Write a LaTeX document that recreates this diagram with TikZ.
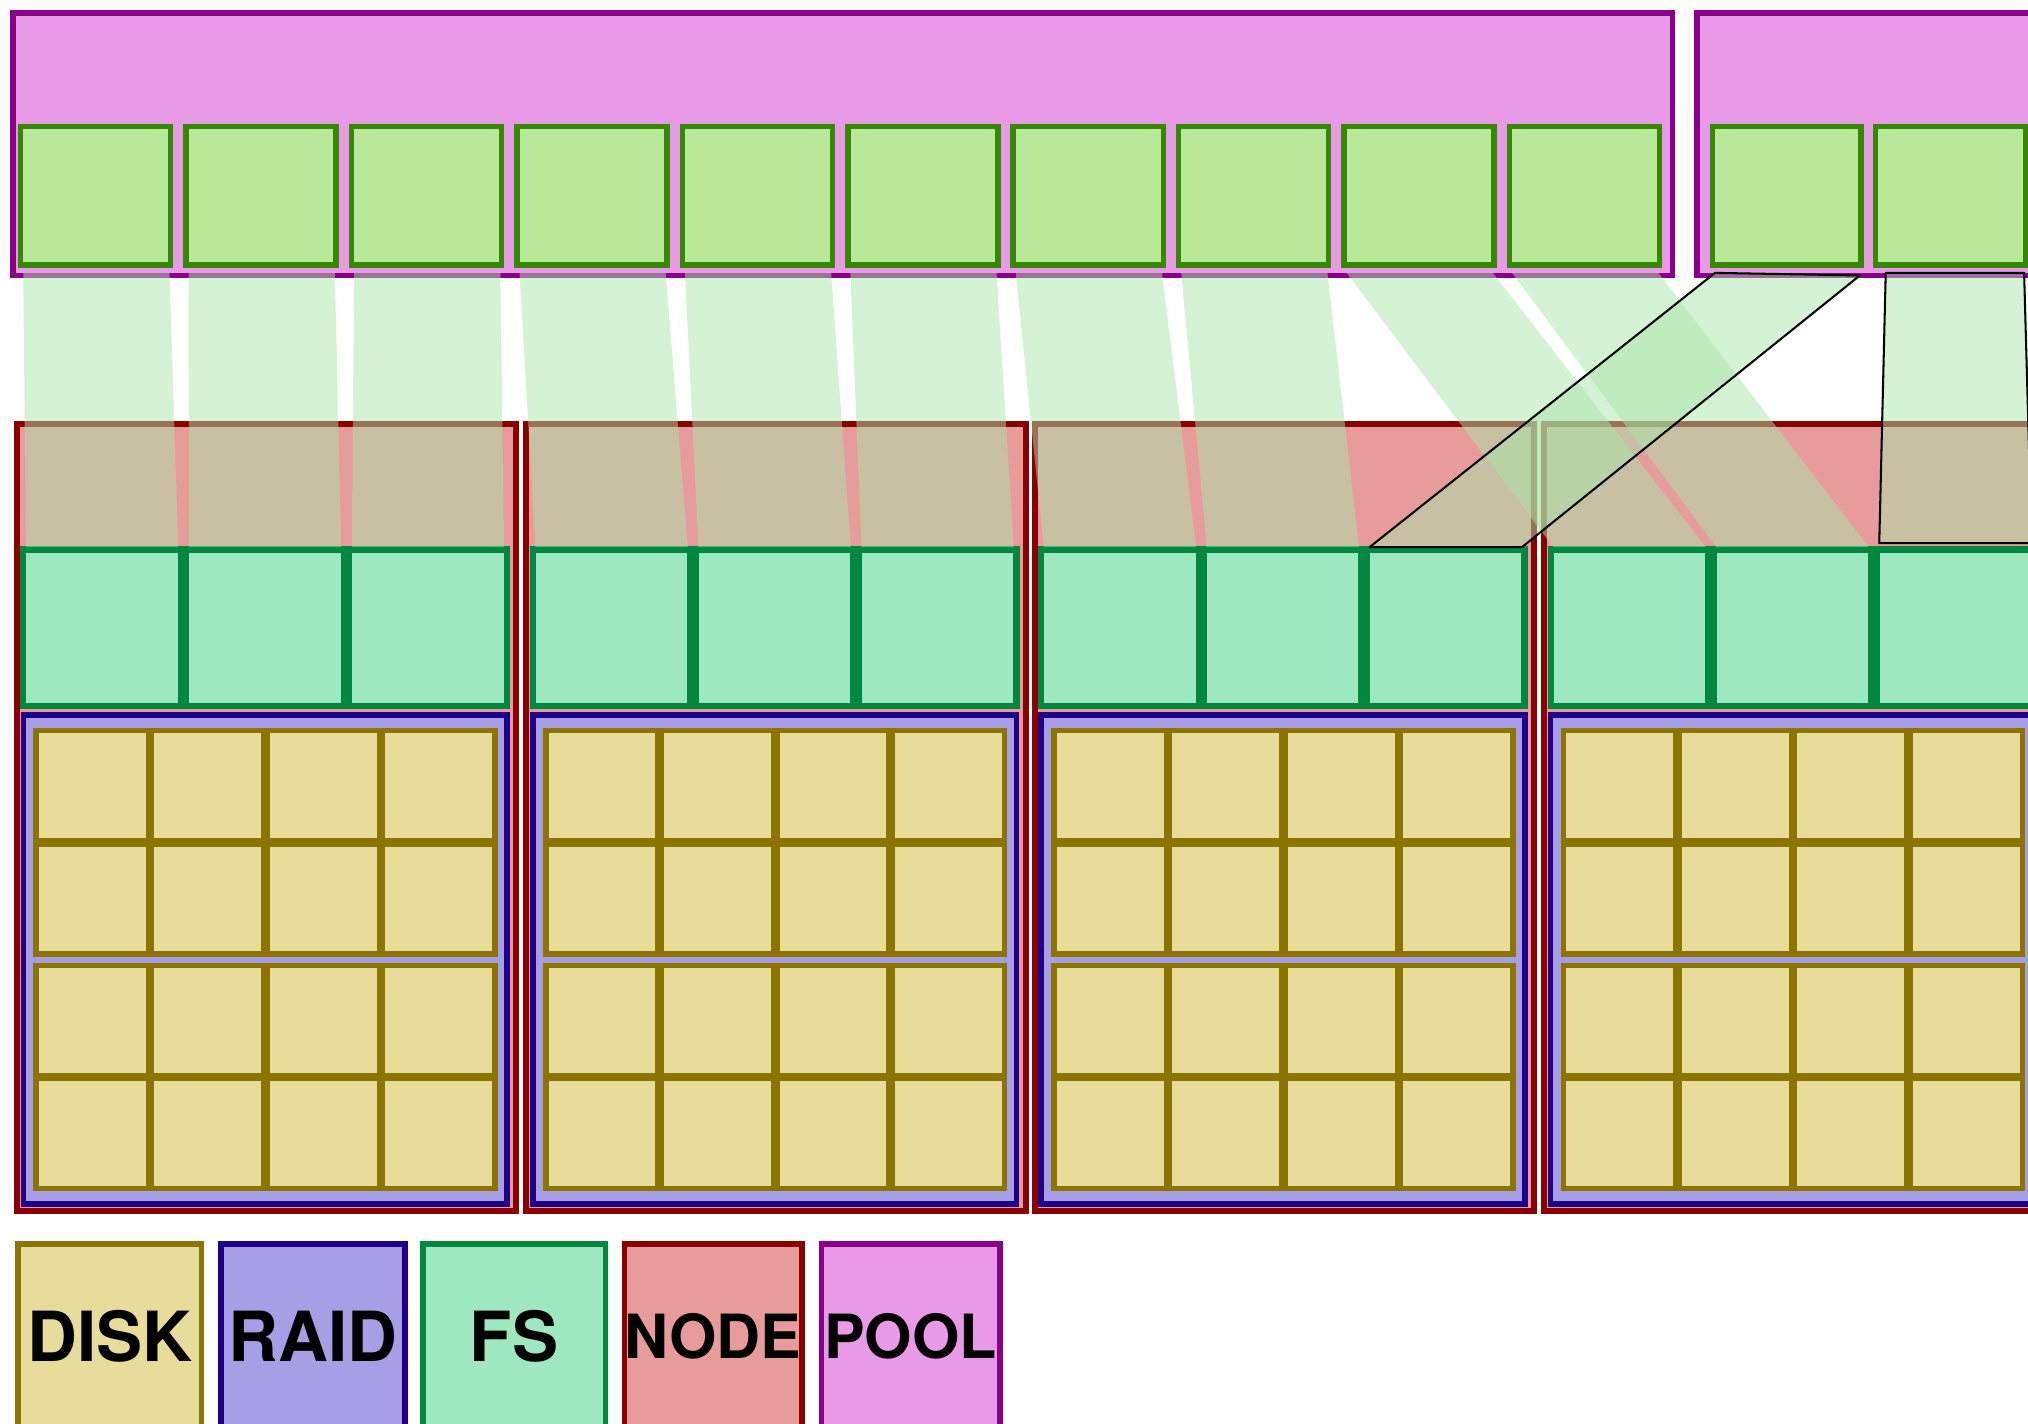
\documentclass[tikz,border=0pt]{standalone}
\usepackage{fontspec}
\setsansfont{TeX Gyre Heros}
\usetikzlibrary{calc}
\definecolor{poolfill}{RGB}{232,154,230}
\definecolor{pooldraw}{RGB}{139,0,139}
\definecolor{vdfill}{RGB}{185,232,155}
\definecolor{vddraw}{RGB}{51,138,0}
\definecolor{flowfill}{RGB}{170,229,170}
\definecolor{nodefill}{RGB}{232,155,155}
\definecolor{nodedraw}{RGB}{139,0,0}
\definecolor{fsfill}{RGB}{157,232,191}
\definecolor{fsdraw}{RGB}{0,136,64}
\definecolor{raidfill}{RGB}{168,158,230}
\definecolor{raiddraw}{RGB}{30,0,139}
\definecolor{diskfill}{RGB}{232,220,155}
\definecolor{diskdraw}{RGB}{139,117,0}
\begin{document}
\begin{tikzpicture}[x=0.01cm,y=-0.01cm,
  box/.style={rectangle, inner sep=0pt, outer sep=0pt, anchor=north west, line width=1.2pt},
  wh/.style 2 args={minimum width=#1*0.01cm, minimum height=#2*0.01cm},
  poolbox/.style={box, fill=poolfill, draw=pooldraw},
  vdbox/.style={box, fill=vdfill, draw=vddraw, wh={116}{107}},
  nodebox/.style={box, fill=nodefill, draw=nodedraw, line width=1.3pt, wh={386}{608}},
  fsbox/.style={box, fill=fsfill, draw=fsdraw, line width=1.4pt, wh={121.8}{121}},
  raidbox/.style={box, fill=raidfill, draw=raiddraw, wh={374}{378}},
  diskbox/.style={box, fill=diskfill, draw=diskdraw, wh={86.8}{85}},
  legend/.style={box, font=\fontsize{15.2}{18}\selectfont\sffamily\bfseries},
  flow/.style={fill=flowfill, fill opacity=0.5},
  mapped/.style={flow, draw=black, draw opacity=1, line width=0.45pt, line join=round}
]
\useasboundingbox (0,0) rectangle (1568,1101);
\clip (0,0) rectangle (1568,1101);

% storage pools
\node[poolbox, wh={1283}{203}] (pool1) at (10,10) {};
\node[poolbox, wh={800}{203}] (pool2) at (1312,10) {};

% virtual devices inside the pools
\foreach \i in {1,...,10}
  \node[vdbox] (p\i) at ({16+127.9*(\i-1)},98) {};
\node[vdbox, wh={115}{107}] (q1) at (1324,98) {};
\node[vdbox] (q2) at (1450,98) {};

% server nodes: file systems on a RAID of 16 disks
\foreach \k/\L in {1/12,2/406,3/799,4/1193} {
  \node[nodebox] (n\k) at ({\L+1},328) {};
  \foreach \j in {1,2,3}
    \node[fsbox] (f\k\j) at ({\L+6+126*(\j-1)},425) {};
  \node[raidbox] (r\k) at ({\L+6},553) {};
  \foreach \c in {0,...,3}
    \foreach \r/\y in {0/565,1/652.5,2/746.5,3/834}
      \node[diskbox] (d\k\r\c) at ({\L+16+89.3*\c},\y) {};
}

% legend
\node[legend, fill=diskfill, draw=diskdraw, wh={142}{142}] (lgdisk) at (14,962) {DISK};
\node[legend, fill=raidfill, draw=raiddraw, wh={142}{142}] (lgraid) at (171,962) {RAID};
\node[legend, fill=fsfill, draw=fsdraw, wh={141}{142}] (lgfs) at (327,962) {FS};
\node[legend, fill=nodefill, draw=nodedraw, wh={137}{142},
      font=\fontsize{13.4}{16}\selectfont\sffamily\bfseries] (lgnode) at (483,962) {NODE};
\node[legend, fill=poolfill, draw=pooldraw, wh={138}{142},
      font=\fontsize{13.4}{16}\selectfont\sffamily\bfseries] (lgpool) at (635,962) {POOL};

% mapping of pool devices onto node file systems
\foreach \a/\b in {p1/f11,p2/f12,p3/f13,p4/f21,p5/f22,p6/f23,p7/f31,p8/f32,p9/f41,p10/f42}
  \fill[flow] ($(\a.south west)+(2,6)$) -- ($(\a.south east)+(-1,6)$)
     -- ($(\b.north east)+(-2,-2)$) -- ($(\b.north west)+(2,-2)$) -- cycle;

\filldraw[mapped] ($(q1.south west)+(2,6)$) -- ($(q1.south east)+(-1,8)$)
   -- ($(f33.north east)+(-2,-2)$) -- ($(f33.north west)+(2,-2)$) -- cycle;
\filldraw[mapped] ($(q2.south west)+(8,6)$) -- ($(q2.south east)+(-1,6)$)
   -- ($(f43.north east)+(-2,-5)$) -- ($(f43.north west)+(2,-5)$) -- cycle;
\end{tikzpicture}
\end{document}
